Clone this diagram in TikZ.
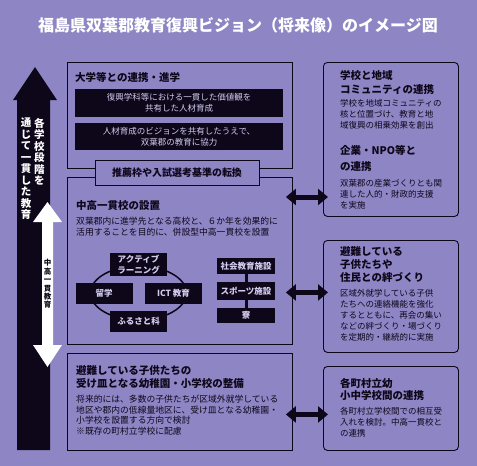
\documentclass[tikz,border=0pt]{standalone}
\usepackage{fontspec}
\setmainfont{Noto Sans CJK JP}
\usetikzlibrary{arrows.meta,calc}
\definecolor{bgpurple}{RGB}{142,133,196}
\definecolor{ink}{RGB}{14,7,26}
\definecolor{pale}{RGB}{210,204,238}
\tikzset{
  box/.style={draw=ink,line width=.9pt,anchor=north west,inner sep=0pt},
  rbox/.style={box,rounded corners=4pt},
  head/.style={anchor=north west,inner sep=0pt,align=left,text=ink,font=\bfseries\fontsize{10.5}{13}\selectfont},
  body/.style={anchor=north west,inner sep=0pt,align=left,text=ink,font=\fontsize{8.8}{10.9}\selectfont},
  rbody/.style={body,font=\fontsize{8.5}{11.2}\selectfont},
  bar/.style={fill=ink,text=pale,align=center,inner sep=0pt,minimum width=208pt,font=\fontsize{8.5}{10.8}\selectfont},
  tag/.style={fill=ink,text=pale,align=center,inner sep=0pt,minimum width=57pt,font=\bfseries\fontsize{8.5}{10.5}\selectfont},
  dblarrow/.style={draw=ink,line width=5pt,{Triangle[length=10pt,width=16pt]}-{Triangle[length=10pt,width=16pt]}},
  vert/.style={anchor=north,inner sep=0pt,align=center,font=\bfseries\fontsize{10.5}{11.5}\selectfont},
}
\begin{document}
\begin{tikzpicture}[x=1pt,y=-1pt]
\fill[bgpurple] (0,0) rectangle (477,466);
\useasboundingbox (0,0) rectangle (477,466);
\node[text=white,font=\bfseries\fontsize{16}{16}\selectfont] (title) at (238,25) {福島県双葉郡教育復興ビジョン（将来像）のイメージ図};
\fill[ink] (17,450) -- (17,100) -- (13,100) -- (35,67) -- (57,100) -- (50,100) -- (50,450) -- cycle;
\fill[white] (47.5,202) -- (62,222) -- (53,222) -- (53,345) -- (62,345) -- (47.5,367) -- (33,345) -- (42,345) -- (42,222) -- (33,222) -- cycle;
\node[vert,text=white] (allR) at (39.5,118) {各\\学\\校\\段\\階\\を};
\node[vert,text=white] (allL) at (26,118) {通\\じ\\て\\一\\貫\\し\\た\\教\\育};
\node[vert,text=ink,anchor=center,font=\bfseries\fontsize{7.5}{8.4}\selectfont] (sixyr) at (47.5,284) {中\\高\\一\\貫\\教\\育};
\node[box,minimum width=225pt,minimum height=106pt] (uni) at (67,62) {};
\node[box,minimum width=225pt,minimum height=167pt] (mid) at (67,177) {};
\node[box,minimum width=225pt,minimum height=97pt] (kids) at (67,353) {};
\node[rbox,minimum width=135pt,minimum height=154pt] (comm) at (323,62) {};
\node[rbox,minimum width=135pt,minimum height=112pt] (bond) at (323,240) {};
\node[rbox,minimum width=135pt,minimum height=84pt] (town) at (323,366) {};
\node[head] (uniT) at (75,72) {大学等との連携・進学};
\node[bar,minimum height=28pt] (bar1) at (179,103) {復興学科等における一貫した価値観を\\共有した人材育成};
\node[bar,minimum height=27pt] (bar2) at (179,136.5) {人材育成のビジョンを共有したうえで、\\双葉郡の教育に協力};
\node[box,fill=bgpurple,anchor=center,minimum width=164pt,minimum height=25pt,text=ink,font=\bfseries\fontsize{10}{10}\selectfont] (switch) at (177,172.5) {推薦枠や入試選考基準の転換};
\node[head] (midT) at (76,200) {中高一貫校の設置};
\node[body] (midB) at (76,216.5) {双葉郡内に進学先となる高校と、６か年を効果的に\\活用することを目的に、併設型中高一貫校を設置};
\draw[ink,line width=1.5pt] (138.5,293) ellipse [x radius=48,y radius=27];
\node[tag,minimum height=23pt] (active) at (138.5,264.5) {アクティブ\\ラーニング};
\node[tag,minimum height=21pt] (abroad) at (104,293.5) {留学};
\node[tag,minimum height=21pt] (ict) at (173.5,293.5) {ICT 教育};
\node[tag,minimum height=21pt] (home) at (138.5,321.5) {ふるさと科};
\node[tag,minimum width=58pt,minimum height=16pt] (social) at (246,266) {社会教育施設};
\node[tag,minimum width=58pt,minimum height=18pt] (sport) at (246,291) {スポーツ施設};
\node[tag,minimum width=58pt,minimum height=15pt] (dorm) at (246,315.5) {寮};
\draw[ink,line width=3pt] (social) -- (sport) (sport) -- (dorm);
\node[head] (kidsT) at (76,365.5) {避難している子供たちの\\受け皿となる幼稚園・小学校の整備};
\node[body] (kidsB) at (76,394.5) {将来的には、多数の子供たちが区域外就学している\\地区や郡内の低線量地区に、受け皿となる幼稚園・\\小学校を設置する方向で検討\\※既存の町村立学校に配慮};
\node[head,font=\bfseries\fontsize{10.5}{14}\selectfont] (commT) at (340,70) {学校と地域\\コミュニティの連携};
\node[rbody] (commB) at (340,98.75) {学校を地域コミュニティの\\核と位置づけ、教育と地\\域復興の相乗効果を創出};
\node[head,font=\bfseries\fontsize{10.5}{16}\selectfont] (npoT) at (340,145) {企業・NPO等と\\の連携};
\node[rbody] (npoB) at (340,178.75) {双葉郡の産業づくりとも関\\連した人的・財政的支援\\を実施};
\node[head] (bondT) at (340,246.75) {避難している\\子供たちや\\住民との絆づくり};
\node[rbody] (bondB) at (340,288.75) {区域外就学している子供\\たちへの連絡機能を強化\\するとともに、再会の集い\\などの絆づくり・場づくり\\を定期的・継続的に実施};
\node[head,font=\bfseries\fontsize{10.5}{12}\selectfont] (townT) at (340,377.75) {各町村立幼\\小中学校間の連携};
\node[rbody] (townB) at (340,406.75) {各町村立学校間での相互受\\入れを検討。中高一貫校と\\の連携};
\draw[dblarrow] ($(mid.north east)+(-7,20)$) -- ($(comm.west |- mid.north)+(5,20)$);
\draw[dblarrow] ($(mid.east |- bond.center)+(-7,-4)$) -- ($(bond.west)+(5,-4)$);
\draw[dblarrow] ($(kids.east |- town.center)+(-7,6)$) -- ($(town.west)+(5,6)$);
\end{tikzpicture}
\end{document}
